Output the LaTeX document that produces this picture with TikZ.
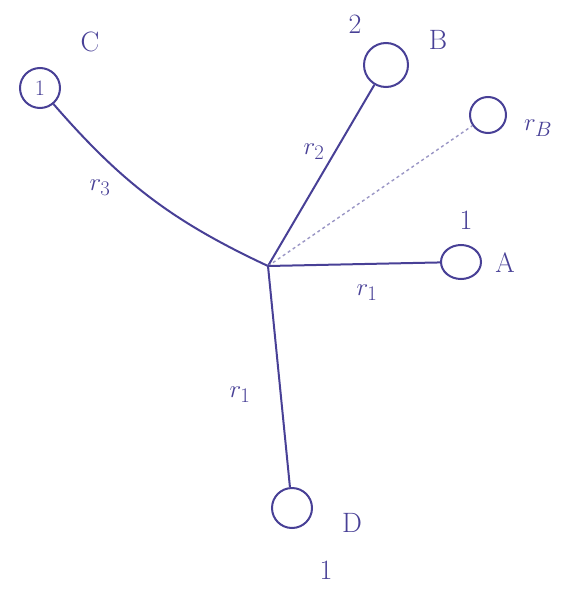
\documentclass[tikz,border=0pt]{standalone}
\usetikzlibrary{shapes.geometric}
\usepackage{fontspec}
\setmainfont{Latin Modern Roman}
\definecolor{ink}{RGB}{72,64,150}
\begin{document}
\begin{tikzpicture}[x=1pt,y=-1pt,
  ink line/.style={draw=ink,line width=2pt},
  ball/.style={circle,draw=ink,line width=2pt,minimum size=40pt,inner sep=0pt},
  lbl/.style={text=ink,font=\fontsize{28}{30}\selectfont,inner sep=1pt}]
\useasboundingbox (0,0) rectangle (573,594);
\coordinate (O) at (268,266);
\node[ball,label={[lbl,font=\fontsize{22}{24}\selectfont]center:1}] (C) at (40,88) {};
\node[ball,minimum size=44pt] (B) at (386,65) {};
\node[ball,minimum size=36pt] (RB) at (488,115) {};
\node[ellipse,draw=ink,line width=2pt,minimum width=40pt,minimum height=34pt,inner sep=0pt] (A) at (461,262) {};
\node[ball,minimum size=40pt] (D) at (292,508) {};
\draw[ink line] (C) to[bend right=12] (O);
\draw[ink line] (O) -- (B);
\draw[draw=ink!55,line width=1.4pt,dashed] (O) -- (RB);
\draw[ink line] (O) -- (A);
\draw[ink line] (O) -- (D);
\node[lbl] (lC) at (90,42) {C};
\node[lbl] (l2) at (355,24) {2};
\node[lbl] (lB) at (438,40) {B};
\node[lbl] (lrB) at (538,128) {$r_B$};
\node[lbl] (l1A) at (466,220) {1};
\node[lbl] (lA) at (505,263) {A};
\node[lbl] (r1a) at (367,293) {$r_1$};
\node[lbl] (r2) at (314,152) {$r_2$};
\node[lbl] (r3) at (100,188) {$r_3$};
\node[lbl] (r1d) at (240,395) {$r_1$};
\node[lbl] (lD) at (352,523) {D};
\node[lbl] (l1D) at (326,570) {1};
\end{tikzpicture}
\end{document}
